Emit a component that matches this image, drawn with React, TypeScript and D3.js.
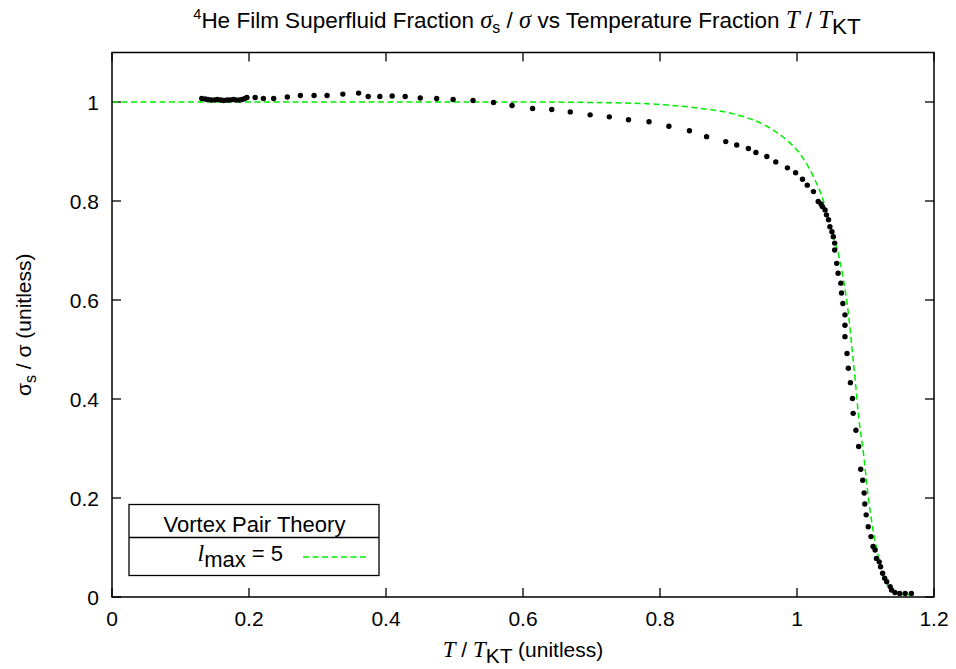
import React from "react";
import * as d3 from "d3";

const dataT = [
  0.131, 0.136, 0.14, 0.145, 0.15, 0.154, 0.159, 0.163, 0.168, 0.172, 0.177, 0.181, 0.186, 0.19, 0.194, 0.197,
  0.209, 0.221, 0.236, 0.256, 0.275, 0.295, 0.314, 0.337, 0.36, 0.374, 0.391, 0.409,
  0.428, 0.45, 0.474, 0.498, 0.527, 0.557, 0.584, 0.614, 0.642, 0.669, 0.698, 0.726, 0.754, 0.784, 0.813, 0.843,
  0.868, 0.896, 0.912, 0.929, 0.94, 0.956, 0.969, 0.986, 0.998, 1.008, 1.015, 1.024, 1.031, 1.035, 1.037, 1.041,
  1.043, 1.046, 1.048, 1.051, 1.053, 1.055, 1.055, 1.058, 1.06, 1.064, 1.065, 1.067, 1.07, 1.07, 1.07, 1.073, 1.075,
  1.078, 1.081, 1.082, 1.086, 1.09, 1.093, 1.096, 1.098, 1.099, 1.101, 1.104, 1.108, 1.111, 1.114, 1.116, 1.12,
  1.122, 1.125, 1.128, 1.131, 1.136, 1.138, 1.143, 1.15, 1.158, 1.167,
];
const dataS = [
  1.007, 1.006, 1.005, 1.004, 1.004, 1.005, 1.004, 1.003, 1.004, 1.004, 1.005, 1.004, 1.004, 1.005, 1.007, 1.009,
  1.009, 1.007, 1.007, 1.01, 1.013, 1.013, 1.013, 1.016, 1.018, 1.011, 1.011, 1.012,
  1.011, 1.008, 1.007, 1.005, 1.003, 0.999, 0.993, 0.987, 0.985, 0.98, 0.974, 0.97, 0.964, 0.96, 0.951, 0.942,
  0.93, 0.92, 0.913, 0.906, 0.898, 0.89, 0.879, 0.867, 0.857, 0.844, 0.832, 0.819, 0.799, 0.794, 0.789, 0.782,
  0.772, 0.762, 0.748, 0.738, 0.728, 0.715, 0.701, 0.674, 0.654, 0.634, 0.614, 0.593, 0.57, 0.549, 0.526, 0.492, 0.462,
  0.433, 0.401, 0.371, 0.337, 0.304, 0.258, 0.236, 0.21, 0.188, 0.166, 0.142, 0.122, 0.102, 0.095, 0.078, 0.071,
  0.061, 0.048, 0.038, 0.031, 0.021, 0.014, 0.009, 0.007, 0.007, 0.007,
];

const theoryT = [
  0, 0.2, 0.4, 0.6, 0.723, 0.8, 0.854, 0.907, 0.956, 0.985, 1.004, 1.024, 1.038, 1.043, 1.053, 1.058, 1.068,
  1.075, 1.08, 1.085, 1.0895, 1.097, 1.104, 1.111, 1.119, 1.126, 1.133, 1.141, 1.155, 1.17,
];
const theoryS = [
  1, 1, 1, 1, 0.9986, 0.995, 0.988, 0.976, 0.951, 0.923, 0.896, 0.849, 0.802, 0.778, 0.728, 0.706, 0.64,
  0.573, 0.506, 0.438, 0.371, 0.29, 0.203, 0.135, 0.081, 0.041, 0.022, 0.011, 0.006, 0.004,
];

const xTicks = [0, 0.2, 0.4, 0.6, 0.8, 1, 1.2];
const yTicks = [0, 0.2, 0.4, 0.6, 0.8, 1];

const W = 956;
const H = 669;
const L = 112, R = 934, T = 52.5, B = 597;

export default function App() {
  const x = d3.scaleLinear().domain([0, 1.2]).range([L, R]);
  const y = d3.scaleLinear().domain([0, 1.1]).range([B, T]);
  const line = d3
    .line<number>()
    .x((_, i) => x(theoryT[i]))
    .y((d) => y(d))
    .curve(d3.curveMonotoneX);
  const tickLen = 9;
  const font = "'Liberation Sans', Arial, Helvetica, sans-serif";
  const serif = "'Liberation Serif', 'Times New Roman', serif";
  const fmt = (v: number) => String(+v.toFixed(1));
  const cx = (L + R) / 2;
  const fs = 21;
  return (
    <svg width={W} height={H} style={{ position: "absolute", left: 0, top: 0, background: "#fff" }} fontFamily={font}>
      <rect x={0} y={0} width={W} height={H} fill="#fff" />
      <defs>
        <clipPath id="plot">
          <rect x={L} y={T} width={R - L} height={B - T} />
        </clipPath>
        <filter id="soft" x="-50%" y="-50%" width="200%" height="200%">
          <feGaussianBlur stdDeviation="0.5" />
        </filter>
      </defs>
      {/* title */}
      <text x={cx + 4} y={28} fontSize={22.5} textAnchor="middle" fill="#000">
        <tspan fontSize={14.5} dy={-9}>4</tspan>
        <tspan dy={9}>He Film Superfluid Fraction </tspan>
        <tspan fontFamily={serif} fontStyle="italic" fontSize={24.5}>σ</tspan>
        <tspan fontSize={16} dy={5}>s</tspan>
        <tspan dy={-5}> / </tspan>
        <tspan fontFamily={serif} fontStyle="italic" fontSize={24.5}>σ</tspan>
        <tspan> vs Temperature Fraction </tspan>
        <tspan fontFamily={serif} fontStyle="italic" fontSize={24.5}>T</tspan>
        <tspan> / </tspan>
        <tspan fontFamily={serif} fontStyle="italic" fontSize={24.5}>T</tspan>
        <tspan dy={6}>KT</tspan>
      </text>
      {/* ticks */}
      {xTicks.map((t) => (
        <g key={"x" + t}>
          <line x1={x(t)} x2={x(t)} y1={B} y2={B - tickLen} stroke="#000" strokeWidth={1.3} />
          <line x1={x(t)} x2={x(t)} y1={T} y2={T + tickLen} stroke="#000" strokeWidth={1.3} />
          <text x={x(t)} y={B + 29} fontSize={fs} textAnchor="middle" fill="#000">{fmt(t)}</text>
        </g>
      ))}
      {yTicks.map((t) => (
        <g key={"y" + t}>
          <line x1={L} x2={L + tickLen} y1={y(t)} y2={y(t)} stroke="#000" strokeWidth={1.3} />
          <line x1={R} x2={R - tickLen} y1={y(t)} y2={y(t)} stroke="#000" strokeWidth={1.3} />
          <text x={L - 13} y={y(t) + 8} fontSize={fs} textAnchor="end" fill="#000">{fmt(t)}</text>
        </g>
      ))}
      {/* theory curve */}
      <g clipPath="url(#plot)">
        <path d={line(theoryS) || ""} fill="none" stroke="#00ee00" strokeWidth={1.5} strokeDasharray="6,3.5" />
      </g>
      {/* data */}
      <g filter="url(#soft)">
        {dataT.map((t, i) => (
          <circle key={i} cx={x(t)} cy={y(dataS[i])} r={2.7} fill="#000" />
        ))}
      </g>
      {/* frame */}
      <rect x={L} y={T} width={R - L} height={B - T} fill="none" stroke="#000" strokeWidth={1.5} />
      {/* legend */}
      <rect x={129} y={504.5} width={250} height={71} fill="#fff" stroke="#000" strokeWidth={1.3} />
      <line x1={129} x2={379} y1={537.5} y2={537.5} stroke="#000" strokeWidth={1.3} />
      <text x={254.5} y={532} fontSize={22} textAnchor="middle" fill="#000">Vortex Pair Theory</text>
      <text x={283} y={561} fontSize={22} textAnchor="end" fill="#000">
        <tspan fontFamily={serif} fontStyle="italic" fontSize={24}>l</tspan>
        <tspan dy={6}>max</tspan>
        <tspan dy={-6}> = 5</tspan>
      </text>
      <line x1={303} x2={367} y1={557} y2={557} stroke="#00ee00" strokeWidth={1.5} strokeDasharray="6,3.5" />
      {/* axis labels */}
      <text x={cx} y={657} fontSize={fs} textAnchor="middle" fill="#000">
        <tspan fontFamily={serif} fontStyle="italic" fontSize={23}>T</tspan>
        <tspan> / </tspan>
        <tspan fontFamily={serif} fontStyle="italic" fontSize={23}>T</tspan>
        <tspan dy={6}>KT</tspan>
        <tspan dy={-6}> (unitless)</tspan>
      </text>
      <text transform={`translate(31, ${(T + B) / 2}) rotate(-90)`} fontSize={fs} textAnchor="middle" fill="#000">
        <tspan>σ</tspan>
        <tspan fontSize={16} dy={5}>s</tspan>
        <tspan dy={-5}> / σ (unitless)</tspan>
      </text>
    </svg>
  );
}
